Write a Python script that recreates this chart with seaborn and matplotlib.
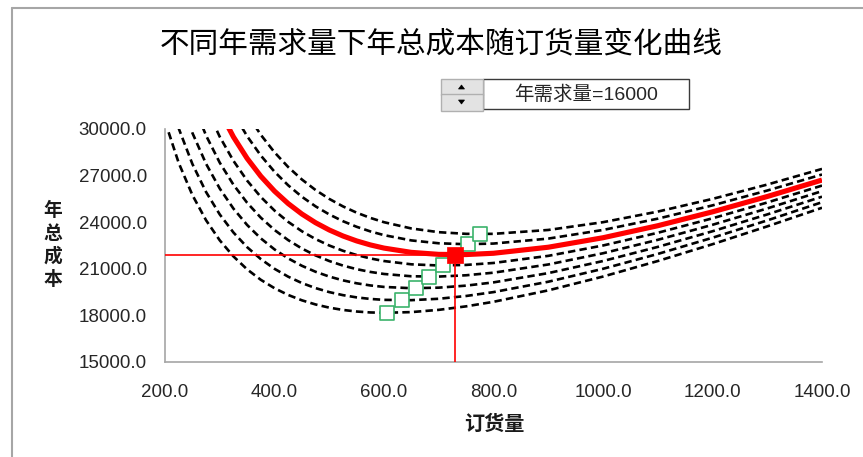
import matplotlib
matplotlib.use("Agg")
import matplotlib.pyplot as plt
import seaborn as sns
import pandas as pd
from matplotlib.patches import Rectangle, Polygon
from matplotlib.lines import Line2D
from matplotlib.ticker import FuncFormatter

# ---- data -------------------------------------------------------------
order_qty = [200, 225, 250, 275, 300, 325, 350, 375, 400, 425, 450, 475, 500, 525, 550, 575,
             600, 650, 700, 750, 800, 900, 1000, 1100, 1200, 1300, 1400]

demand_levels = [11000, 12000, 13000, 14000, 15000, 16000, 17000, 18000]
selected_demand = 16000

cost_d11000 = [30500, 27819, 25750, 24125, 22833, 21798, 20964, 20292, 19750, 19316, 18972, 18704,
               18500, 18351, 18250, 18190, 18167, 18212, 18357, 18583, 18875, 19611, 20500, 21500,
               22583, 23731, 24929]
cost_d12000 = [33000, 30042, 27750, 25943, 24500, 23337, 22393, 21625, 21000, 20493, 20083, 19757,
               19500, 19304, 19159, 19060, 19000, 18981, 19071, 19250, 19500, 20167, 21000, 21955,
               23000, 24115, 25286]
cost_d13000 = [35500, 32264, 29750, 27761, 26167, 24875, 23821, 22958, 22250, 21669, 21194, 20809,
               20500, 20256, 20068, 19929, 19833, 19750, 19786, 19917, 20125, 20722, 21500, 22409,
               23417, 24500, 25643]
cost_d14000 = [38000, 34486, 31750, 29580, 27833, 26413, 25250, 24292, 23500, 22846, 22306, 21862,
               21500, 21208, 20977, 20799, 20667, 20519, 20500, 20583, 20750, 21278, 22000, 22864,
               23833, 24885, 26000]
cost_d15000 = [40500, 36708, 33750, 31398, 29500, 27952, 26679, 25625, 24750, 24022, 23417, 22914,
               22500, 22161, 21886, 21668, 21500, 21288, 21214, 21250, 21375, 21833, 22500, 23318,
               24250, 25269, 26357]
cost_d16000 = [43000, 38931, 35750, 33216, 31167, 29490, 28107, 26958, 26000, 25199, 24528, 23967,
               23500, 23113, 22795, 22538, 22333, 22058, 21929, 21917, 22000, 22389, 23000, 23773,
               24667, 25654, 26714]
cost_d17000 = [45500, 41153, 37750, 35034, 32833, 31029, 29536, 28292, 27250, 26375, 25639, 25020,
               24500, 24065, 23705, 23408, 23167, 22827, 22643, 22583, 22625, 22944, 23500, 24227,
               25083, 26038, 27071]
cost_d18000 = [48000, 43375, 39750, 36852, 34500, 32567, 30964, 29625, 28500, 27551, 26750, 26072,
               25500, 25018, 24614, 24277, 24000, 23596, 23357, 23250, 23250, 23500, 24000, 24682,
               25500, 26423, 27429]

# economic order quantity and minimum total cost for each demand level
eoq_qty = [605.5, 632.5, 658.3, 683.1, 707.1, 730.3, 752.8, 774.6]
eoq_cost = [18166, 18974, 19748, 20494, 21213, 21909, 22583, 23238]

x_ticks = [200, 400, 600, 800, 1000, 1200, 1400]
y_ticks = [15000, 18000, 21000, 24000, 27000, 30000]

cost_series = [cost_d11000, cost_d12000, cost_d13000, cost_d14000,
               cost_d15000, cost_d16000, cost_d17000, cost_d18000]

curves = pd.concat(
    [pd.DataFrame({"订货量": order_qty, "年总成本": c, "年需求量": d})
     for d, c in zip(demand_levels, cost_series)],
    ignore_index=True,
)
points = pd.DataFrame({"订货量": eoq_qty, "年总成本": eoq_cost, "年需求量": demand_levels})

# ---- style ------------------------------------------------------------
sns.set_style("white")
plt.rcParams["font.family"] = ["Liberation Sans", "Noto Sans CJK SC", "DejaVu Sans"]

W, H = 863, 457
fig = plt.figure(figsize=(W / 100, H / 100), dpi=100)


def fx(px):
    return px / W


def fy(py):
    return 1 - py / H


ax = fig.add_axes([fx(165), fy(362), fx(822) - fx(165), fy(129) - fy(362)])

GRAY = "#A6A6A6"
RED = "#FF0000"
GREEN = "#3BB36B"

# dashed curves for all other demand levels
for d in demand_levels:
    if d == selected_demand:
        continue
    sns.lineplot(data=curves[curves["年需求量"] == d], x="订货量", y="年总成本",
                 ax=ax, color="black", linewidth=1.9, estimator=None, sort=False,
                 linestyle=(0, (2.8, 1.6)), dash_capstyle="butt", zorder=2)

# highlighted curve for the selected demand
sns.lineplot(data=curves[curves["年需求量"] == selected_demand], x="订货量", y="年总成本",
             ax=ax, color=RED, linewidth=3.7, estimator=None, sort=False,
             solid_capstyle="butt", solid_joinstyle="round", zorder=3)

# crosshair at the selected optimum
sel = points[points["年需求量"] == selected_demand].iloc[0]
ax.plot([x_ticks[0], sel["订货量"]], [sel["年总成本"], sel["年总成本"]],
        color=RED, linewidth=1.2, zorder=4)
ax.plot([sel["订货量"], sel["订货量"]], [y_ticks[0], sel["年总成本"]],
        color=RED, linewidth=1.2, zorder=4)

# optimum markers
others = points[points["年需求量"] != selected_demand]
sns.scatterplot(data=others, x="订货量", y="年总成本", ax=ax, marker="s", s=115,
                facecolor="white", edgecolor=GREEN, linewidth=1.2, zorder=5)
sns.scatterplot(data=points[points["年需求量"] == selected_demand], x="订货量", y="年总成本",
                ax=ax, marker="s", s=125, color=RED, edgecolor=RED, linewidth=0.5, zorder=6)

# ---- axes -------------------------------------------------------------
ax.set_xlim(x_ticks[0], x_ticks[-1])
ax.set_ylim(y_ticks[0], y_ticks[-1])
ax.set_xticks(x_ticks)
ax.set_yticks(y_ticks)
fmt = FuncFormatter(lambda v, _: f"{v:.1f}")
ax.xaxis.set_major_formatter(fmt)
ax.yaxis.set_major_formatter(fmt)
ax.tick_params(axis="both", direction="in", length=4, width=1, color=GRAY,
               labelsize=13.5, labelcolor="#262626")
ax.tick_params(axis="x", pad=16)
ax.tick_params(axis="y", pad=13)
ax.set_xlabel("")
ax.set_ylabel("")
for side in ("top", "right"):
    ax.spines[side].set_visible(False)
for side in ("left", "bottom"):
    ax.spines[side].set_color(GRAY)
    ax.spines[side].set_linewidth(1.2)
ax.grid(False)

# ---- texts ------------------------------------------------------------
fig.text(fx(441), fy(44), "不同年需求量下年总成本随订货量变化曲线",
         ha="center", va="center", fontsize=21.3, family=["Noto Sans CJK SC"], color="black")
fig.text(fx(53), fy(245), "年\n总\n成\n本", ha="center", va="center",
         fontsize=13.5, fontweight="bold", linespacing=1.28,
         family=["Noto Sans CJK SC"], color="#1a1a1a")
fig.text(fx(494), fy(423), "订货量", ha="center", va="center",
         fontsize=14.5, fontweight="bold", family=["Noto Sans CJK SC"], color="#1a1a1a")

# ---- spinner control --------------------------------------------------
fig.patches.append(Rectangle((fx(482.7), fy(109)), fx(689) - fx(482.7), fy(79.3) - fy(109),
                             transform=fig.transFigure, facecolor="white",
                             edgecolor="#3a3a3a", linewidth=1.0))
fig.patches.append(Rectangle((fx(440.7), fy(94.5)), fx(482.7) - fx(440.7), fy(79.3) - fy(94.5),
                             transform=fig.transFigure, facecolor="#E3E3E3",
                             edgecolor="#B0B0B0", linewidth=1.0))
fig.patches.append(Rectangle((fx(440.7), fy(110.5)), fx(482.7) - fx(440.7), fy(94.5) - fy(110.5),
                             transform=fig.transFigure, facecolor="#E3E3E3",
                             edgecolor="#B0B0B0", linewidth=1.0))
fig.patches.append(Polygon([(fx(458.5), fy(89)), (fx(464.5), fy(89)), (fx(461.5), fy(85))],
                           closed=True, transform=fig.transFigure, facecolor="black",
                           edgecolor="black", linewidth=0.5))
fig.patches.append(Polygon([(fx(458.5), fy(100)), (fx(464.5), fy(100)), (fx(461.5), fy(104))],
                           closed=True, transform=fig.transFigure, facecolor="black",
                           edgecolor="black", linewidth=0.5))
fig.text(fx(586), fy(94.5), f"年需求量={selected_demand}", ha="center", va="center",
         fontsize=14, color="#262626")

# ---- chart-area frame -------------------------------------------------
fig.lines.append(Line2D([fx(12), fx(W)], [fy(8), fy(8)], transform=fig.transFigure,
                        color=GRAY, linewidth=1.5))
fig.lines.append(Line2D([fx(12), fx(12)], [fy(8), fy(H)], transform=fig.transFigure,
                        color=GRAY, linewidth=1.5))

fig.savefig("out.png", dpi=100, facecolor="white")
